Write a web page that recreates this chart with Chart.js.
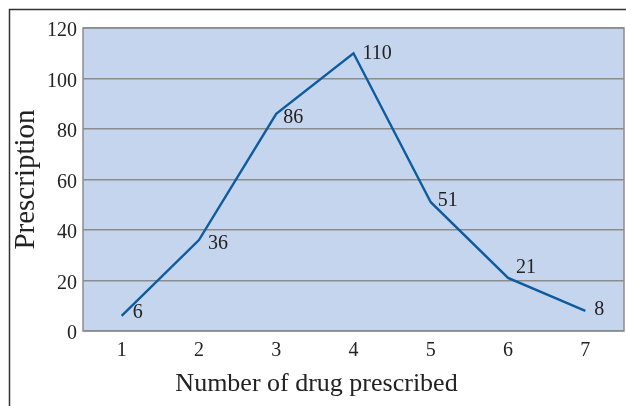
<!DOCTYPE html>
<html>
<head>
<meta charset="utf-8">
<script src="https://cdn.jsdelivr.net/npm/chart.js@4"></script>
<style>
  html, body { margin: 0; padding: 0; background: #fff; }
  #wrap { width: 626px; height: 406px; }
</style>
</head>
<body>
<div id="wrap"><canvas id="chart1"></canvas></div>
<script>
const xlabels1 = ["1", "2", "3", "4", "5", "6", "7"];
const yvalues1 = [6, 36, 86, 110, 51, 21, 8];
const ylabels1 = ["0", "20", "40", "60", "80", "100", "120"];

const serif = "'Liberation Serif', 'Times New Roman', serif";

// nudge of each value label from its point (left edge, vertical middle)
const labelNudge = [[11, -3], [9, 4], [7, 4], [9, 0], [7, -1], [8, -10], [9, -1]];

const framePlugin = {
  id: "frame",
  beforeDraw(chart) {
    const c = chart.ctx;
    const a = chart.chartArea;
    c.save();
    // outer frame, only top and left edges show
    c.strokeStyle = "#333";
    c.lineWidth = 1.5;
    c.beginPath();
    c.moveTo(9.5, 406);
    c.lineTo(9.5, 9.5);
    c.lineTo(626, 9.5);
    c.stroke();
    c.fillStyle = "#c6d5ee";
    c.fillRect(a.left, a.top, a.right - a.left, a.bottom - a.top);
    c.restore();
  },
  afterDatasetsDraw(chart) {
    const c = chart.ctx;
    const a = chart.chartArea;
    c.save();
    c.strokeStyle = "#8c8c8c";
    c.lineWidth = 1.5;
    c.strokeRect(a.left, a.top, a.right - a.left, a.bottom - a.top);
    // value labels
    c.fillStyle = "#222";
    c.font = "20px " + serif;
    c.textAlign = "left";
    c.textBaseline = "middle";
    const pts = chart.getDatasetMeta(0).data;
    pts.forEach((p, i) => {
      c.fillText(String(yvalues1[i]), p.x + labelNudge[i][0], p.y + labelNudge[i][1]);
    });
    c.restore();
  }
};

const ctx = document.getElementById("chart1").getContext("2d");
const myChart = new Chart(ctx, {
  type: "line",
  data: {
    labels: xlabels1,
    datasets: [
      {
        data: yvalues1,
        borderColor: "#0d5ca0",
        borderWidth: 2.4,
        pointRadius: 0,
        tension: 0,
        fill: false
      }
    ]
  },
  options: {
    responsive: true,
    maintainAspectRatio: false,
    animation: false,
    layout: { padding: { top: 28, right: 2, left: 9, bottom: 6 } },
    plugins: {
      legend: { display: false },
      tooltip: { enabled: false },
      title: {
        display: true,
        position: "bottom",
        text: "Number of drug prescribed",
        color: "#222",
        font: { family: serif, size: 26, weight: "normal" },
        padding: { top: 0, bottom: 0 }
      }
    },
    scales: {
      x: {
        offset: true,
        grid: { display: false, drawTicks: false },
        border: { display: false },
        ticks: { color: "#222", font: { family: serif, size: 20 }, padding: 8 },
        afterFit(scale) { scale.height = 69 - 26 * 1.2; }
      },
      y: {
        min: 0,
        max: 120,
        grid: { color: "#8c8c8c", lineWidth: 1.5, drawTicks: false },
        border: { display: false },
        ticks: {
          stepSize: 20,
          color: "#222",
          font: { family: serif, size: 20 },
          padding: 6,
          labelOffset: 3,
          callback: (v) => ylabels1[v / 20]
        },
        title: {
          display: true,
          text: "Prescription",
          color: "#222",
          font: { family: serif, size: 29 },
          padding: { top: 0, bottom: 0 }
        },
        afterFit(scale) { scale.width = 83 - 9; }
      }
    }
  },
  plugins: [framePlugin]
});
</script>
</body>
</html>
